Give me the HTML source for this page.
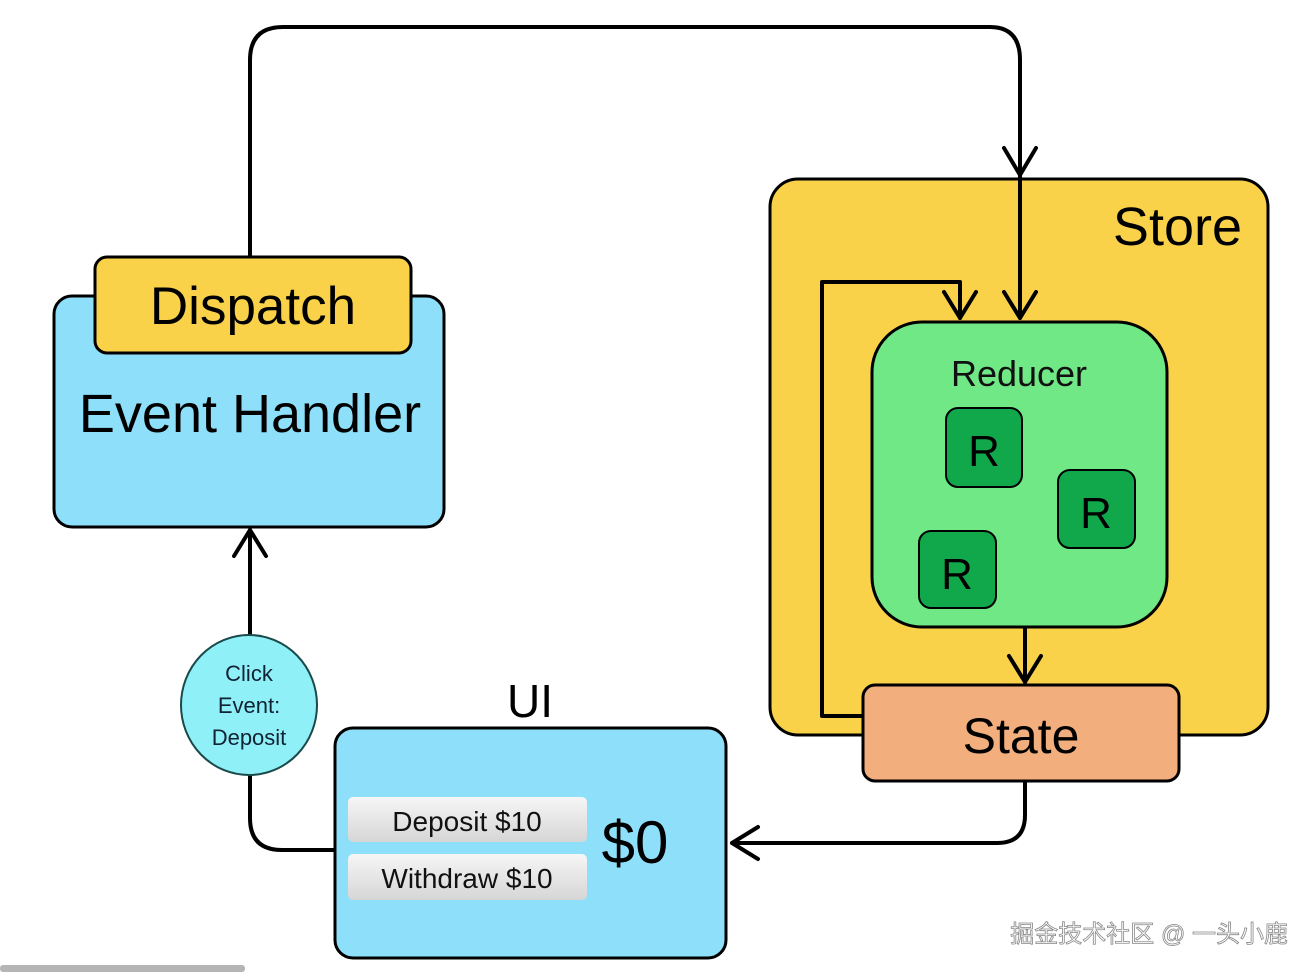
<!DOCTYPE html>
<html><head><meta charset="utf-8"><style>
body{margin:0;background:#fff;width:1315px;height:972px;overflow:hidden}
text{font-family:"Liberation Sans","DejaVu Sans",sans-serif}
</style></head><body>
<svg width="1315" height="972" xmlns="http://www.w3.org/2000/svg">
<defs>
<linearGradient id="btn" x1="0" y1="0" x2="0" y2="1"><stop offset="0" stop-color="#f6f6f6"/><stop offset="1" stop-color="#d6d6d6"/></linearGradient>
</defs>
<g stroke="#000" stroke-width="3" fill="none" stroke-linecap="round" stroke-linejoin="round">
<rect x="770" y="179" width="498" height="556" rx="28" fill="#F9D24A"/>
</g>
<text x="1242" y="245" font-size="54" text-anchor="end">Store</text>
<g stroke="#000" stroke-width="4" fill="none" stroke-linecap="round" stroke-linejoin="round">
<path d="M250 257 V60 Q250 27 283 27 H990 Q1020 27 1020 60 V318"/>
<path d="M1004 148 L1020 175 L1036 148"/>
<path d="M1004 292 L1020 318 L1036 292"/>
<path d="M863 716 H822 V282 H960 V318"/>
<path d="M944 292 L960 318 L976 292"/>
<path d="M1025 627 V682"/>
<path d="M1009 656 L1025 682 L1041 656"/>
<path d="M1025 781 V815 Q1025 843 997 843 H732"/>
<path d="M758 827 L732 843 L758 859"/>
<path d="M335 850 H282 Q250 850 250 818 V775"/>
<path d="M250 636 V530"/>
<path d="M234 556 L250 530 L266 556"/>
</g>
<g stroke="#000" stroke-width="3">
<rect x="872" y="322" width="295" height="305" rx="50" fill="#70E886"/>
<rect x="946" y="408" width="76" height="79" rx="12" fill="#10A84A" stroke-width="2"/>
<rect x="1058" y="470" width="77" height="78" rx="12" fill="#10A84A" stroke-width="2"/>
<rect x="919" y="531" width="77" height="77" rx="12" fill="#10A84A" stroke-width="2"/>
<rect x="863" y="685" width="316" height="96" rx="12" fill="#F2AE7C"/>
<rect x="54" y="296" width="390" height="231" rx="18" fill="#8EE0FA"/>
<rect x="95" y="257" width="316" height="96" rx="12" fill="#F9D24A"/>
<rect x="335" y="728" width="391" height="230" rx="18" fill="#8EE0FA"/>
<ellipse cx="249" cy="705" rx="68" ry="70" fill="#90F0F8" stroke="#1a4a4a" stroke-width="2"/>
</g>
<rect x="348" y="797" width="239" height="45" rx="5" fill="url(#btn)"/>
<rect x="348" y="854" width="239" height="46" rx="5" fill="url(#btn)"/>
<text x="1019" y="386" font-size="36" text-anchor="middle" fill="#111">Reducer</text>
<text x="984" y="466" font-size="44" text-anchor="middle">R</text>
<text x="1096" y="528" font-size="44" text-anchor="middle">R</text>
<text x="957" y="589" font-size="44" text-anchor="middle">R</text>
<text x="1021" y="753" font-size="50" text-anchor="middle">State</text>
<text x="253" y="324" font-size="53" text-anchor="middle">Dispatch</text>
<text x="250" y="432" font-size="54" text-anchor="middle">Event Handler</text>
<text x="530" y="717" font-size="46" text-anchor="middle">UI</text>
<text x="467" y="831" font-size="28" text-anchor="middle" fill="#111">Deposit $10</text>
<text x="467" y="888" font-size="28" text-anchor="middle" fill="#111">Withdraw $10</text>
<text x="635" y="863" font-size="60" text-anchor="middle">$0</text>
<g font-size="22" text-anchor="middle" fill="#123">
<text x="249" y="681">Click</text>
<text x="249" y="713">Event:</text>
<text x="249" y="745">Deposit</text>
</g>
<rect x="0" y="965" width="245" height="7" rx="3" fill="#b5b5b5"/>
<text x="1288" y="942" font-size="24" text-anchor="end" fill="#fff" stroke="#888" stroke-width="0.8" style='font-family:"Liberation Sans","Noto Sans CJK SC",sans-serif'>掘金技术社区 @ 一头小鹿</text>
</svg>
</body></html>
